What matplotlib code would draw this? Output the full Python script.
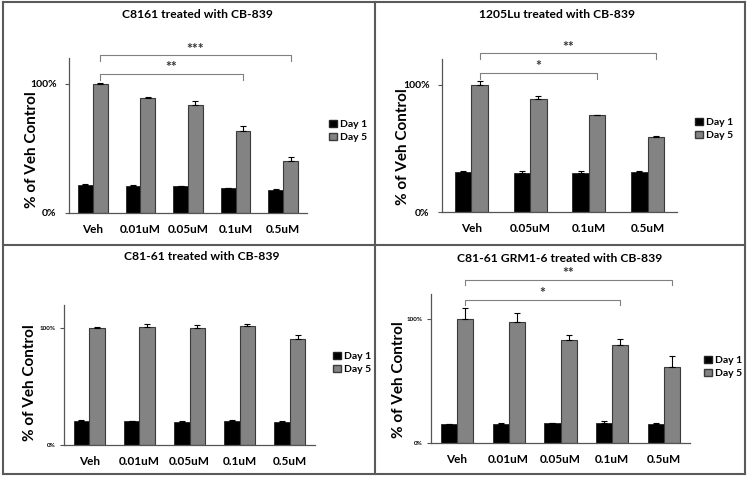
import matplotlib
matplotlib.use('Agg')
import matplotlib.pyplot as plt
from matplotlib.lines import Line2D
from matplotlib.patches import Patch

plt.rcParams['font.family'] = ['Lato', 'DejaVu Sans']
plt.rcParams['font.weight'] = 'bold'

W, H = 750, 479

# panel 1: C8161
c1_cats = ['Veh', '0.01uM', '0.05uM', '0.1uM', '0.5uM']
c1_day1 = [22.0, 21.2, 20.7, 19.1, 17.8]
c1_day1_err = [0.5, 0.5, 0.4, 0.6, 0.4]
c1_day5 = [100.0, 89.1, 83.7, 63.8, 40.6]
c1_day5_err = [1.0, 0.8, 2.8, 3.6, 3.1]

# panel 2: 1205Lu
lu_cats = ['Veh', '0.05uM', '0.1uM', '0.5uM']
lu_day1 = [31.3, 30.8, 30.5, 31.6]
lu_day1_err = [0.5, 1.0, 2.0, 0.5]
lu_day5 = [100.0, 88.3, 76.2, 58.7]
lu_day5_err = [2.4, 2.3, 0.2, 1.2]

# panel 3: C81-61
c3_cats = ['Veh', '0.01uM', '0.05uM', '0.1uM', '0.5uM']
c3_day1 = [20.9, 20.3, 20.0, 20.9, 19.7]
c3_day1_err = [0.4, 0.5, 0.4, 0.3, 0.8]
c3_day5 = [100.0, 101.1, 100.3, 101.7, 90.9]
c3_day5_err = [1.5, 2.2, 2.5, 1.6, 3.7]

# panel 4: C81-61 GRM1-6
c4_cats = ['Veh', '0.01uM', '0.05uM', '0.1uM', '0.5uM']
c4_day1 = [15.3, 15.0, 15.9, 16.1, 15.3]
c4_day1_err = [0.3, 0.8, 0.4, 1.3, 0.5]
c4_day5 = [100.0, 97.3, 83.3, 79.3, 61.0]
c4_day5_err = [8.9, 7.5, 3.5, 4.3, 9.4]

titles = ['C8161 treated with CB-839', '1205Lu treated with CB-839',
          'C81-61 treated with CB-839', 'C81-61 GRM1-6 treated with CB-839']

# significance brackets: (from index, to index, height, label)
c1_sig = [(0, 4, 122, '***'), (0, 3, 107.5, '**')]
lu_sig = [(0, 3, 124.5, '**'), (0, 2, 109, '*')]
c4_sig = [(0, 4, 131.5, '**'), (0, 3, 115.5, '*')]

fig = plt.figure(figsize=(W / 100, H / 100), dpi=100)


def px_axes(l, t, r, b):
    return fig.add_axes([l / W, 1 - b / H, (r - l) / W, (b - t) / H])


def draw_panel(box, cats, d1, e1, d5, e5, sig, width, tick_fs, tick_pad, title,
               title_xy, ylab_xy, leg_xy):
    ax = px_axes(*box)
    x = list(range(len(cats)))
    xb = [i - width / 2 for i in x]
    xg = [i + width / 2 for i in x]
    ekw = dict(ecolor='black', elinewidth=0.8, capsize=2.5, capthick=0.8)
    ax.bar(xb, d1, width, color='black', edgecolor='#222222', linewidth=0.6,
           yerr=[[0] * len(e1), e1], error_kw=ekw)
    ax.bar(xg, d5, width, color='#838383', edgecolor='#3a3a3a', linewidth=0.8,
           yerr=[[0] * len(e5), e5], error_kw=ekw)
    ax.set_xlim(-0.5, len(cats) - 0.5)
    ax.set_ylim(0, 120)
    ax.set_yticks([0, 100])
    ax.set_yticklabels(['0%', '100%'], fontsize=tick_fs, fontweight='bold')
    ax.set_xticks(x)
    ax.set_xticklabels(cats, fontsize=8.5, fontweight='bold')
    ax.tick_params(axis='x', length=0, pad=8)
    ax.tick_params(axis='y', length=3, width=0.8, color='#555555', pad=tick_pad)
    for s in ['top', 'right']:
        ax.spines[s].set_visible(False)
    for s in ['left', 'bottom']:
        ax.spines[s].set_color('#555555')
        ax.spines[s].set_linewidth(0.9)
    for i, j, h, lab in sig:
        a, b = xg[i], xg[j]
        ax.plot([a, a, b, b], [h - 4.5, h, h, h - 4.5], color='#808080',
                linewidth=0.8, clip_on=False)
        ax.text((a + b) / 2, h + 0.5, lab, ha='center', va='bottom',
                fontsize=10, color='#333333')
    fig.text(title_xy[0] / W, 1 - title_xy[1] / H, title, ha='center',
             va='center', fontsize=8.7, fontweight='bold')
    fig.text(ylab_xy[0] / W, 1 - ylab_xy[1] / H, '% of Veh Control',
             rotation=90, ha='center', va='center', fontsize=11,
             fontweight='bold')
    handles = [Patch(facecolor='black', edgecolor='#222222', label='Day 1'),
               Patch(facecolor='#838383', edgecolor='#3a3a3a', label='Day 5')]
    ax.legend(handles=handles, loc='center left',
              bbox_to_anchor=(leg_xy[0] / W, 1 - leg_xy[1] / H),
              bbox_transform=fig.transFigure, frameon=False, fontsize=7.5,
              handlelength=0.7, handleheight=0.7, handletextpad=0.3,
              labelspacing=0.3, borderpad=0)
    return ax


draw_panel((69, 58, 307, 213), c1_cats, c1_day1, c1_day1_err, c1_day5,
           c1_day5_err, c1_sig, 0.31, 7.5, 6, titles[0], (197, 15), (32, 150),
           (324, 131))
draw_panel((442, 59, 677, 212), lu_cats, lu_day1, lu_day1_err, lu_day5,
           lu_day5_err, lu_sig, 0.28, 7.5, 6, titles[1], (557, 15), (403, 147),
           (690, 129))
draw_panel((64, 305, 315, 445), c3_cats, c3_day1, c3_day1_err, c3_day5,
           c3_day5_err, [], 0.31, 4.5, 3, titles[2], (202, 257), (30, 383),
           (328, 363))
draw_panel((431, 294, 690, 443), c4_cats, c4_day1, c4_day1_err, c4_day5,
           c4_day5_err, c4_sig, 0.31, 4.5, 3, titles[3], (560, 258), (399, 380),
           (699, 367))

# panel frame lines
bc = '#5a5a5a'
segs = [((3, 2), (745, 2)), ((3, 474), (745, 474)), ((3, 2), (3, 474)),
        ((745, 2), (745, 474)), ((375, 2), (375, 474)), ((3, 245), (745, 245))]
for (x0, y0), (x1, y1) in segs:
    fig.add_artist(Line2D([x0 / W, x1 / W], [1 - y0 / H, 1 - y1 / H],
                          transform=fig.transFigure, color=bc, linewidth=1.5))

fig.savefig('out.png', dpi=100)
